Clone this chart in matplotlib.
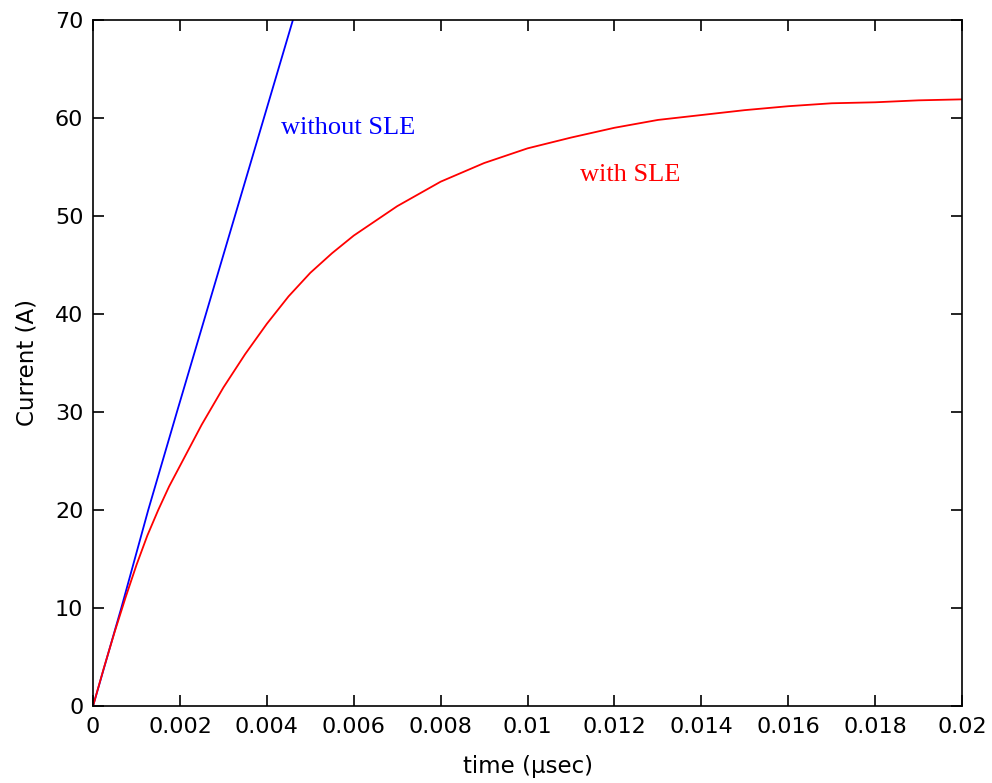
import matplotlib.pyplot as plt

# time in microseconds, current in amperes
t_without = [0, 0.00065, 0.00127, 0.00193, 0.0046, 0.005]
i_without = [0, 10.0, 20.0, 30.0, 70.0, 76.0]

t_with = [0, 0.00025, 0.0005, 0.00075, 0.001, 0.00125, 0.0015, 0.00175, 0.002,
          0.0025, 0.003, 0.0035, 0.004, 0.0045, 0.005, 0.0055,
          0.006, 0.007, 0.008, 0.009, 0.010, 0.011, 0.012, 0.013, 0.014,
          0.015, 0.016, 0.017, 0.018, 0.019, 0.020]
i_with = [0, 3.9, 7.6, 11.1, 14.4, 17.4, 20.0, 22.4, 24.5,
          28.7, 32.5, 35.9, 39.0, 41.8, 44.2, 46.2,
          48.0, 51.0, 53.5, 55.4, 56.9, 58.0, 59.0, 59.8, 60.3,
          60.8, 61.2, 61.5, 61.6, 61.8, 61.9]

xticks = [0, 0.002, 0.004, 0.006, 0.008, 0.01, 0.012, 0.014, 0.016, 0.018, 0.02]
xticklabels = ['0', '0.002', '0.004', '0.006', '0.008', '0.01', '0.012',
               '0.014', '0.016', '0.018', '0.02']
yticks = [0, 10, 20, 30, 40, 50, 60, 70]

plt.rcParams['font.family'] = 'DejaVu Sans'

fig = plt.figure(figsize=(9.92, 7.83), dpi=100)
ax = fig.add_axes([0.0938, 0.0983, 0.876, 0.8762])

ax.plot(t_without, i_without, color='blue', linewidth=1.3)
ax.plot(t_with, i_with, color='red', linewidth=1.3)

ax.text(0.00433, 59.0, 'without SLE', color='blue', fontsize=19,
        family='Liberation Serif', va='center')
ax.text(0.0112, 54.2, 'with SLE', color='red', fontsize=19,
        family='Liberation Serif', va='center')

ax.set_xlim(0, 0.02)
ax.set_ylim(0, 70)
ax.set_xticks(xticks)
ax.set_xticklabels(xticklabels)
ax.set_yticks(yticks)
ax.tick_params(direction='in', length=8, width=1.2, labelsize=16,
               top=True, right=True, colors='black')
ax.tick_params(axis='y', pad=7)
ax.tick_params(axis='x', pad=8)
for s in ax.spines.values():
    s.set_linewidth(1.2)

ax.set_xlabel('time (\u00b5sec)', fontsize=16.5)
ax.set_ylabel('Current (A)', fontsize=16.5)
ax.xaxis.label.set_va('center')
ax.yaxis.label.set_va('center')
ax.xaxis.set_label_coords(0.5, -0.0875)
ax.yaxis.set_label_coords(-0.076, 0.5)

fig.savefig('out.png', dpi=100)
